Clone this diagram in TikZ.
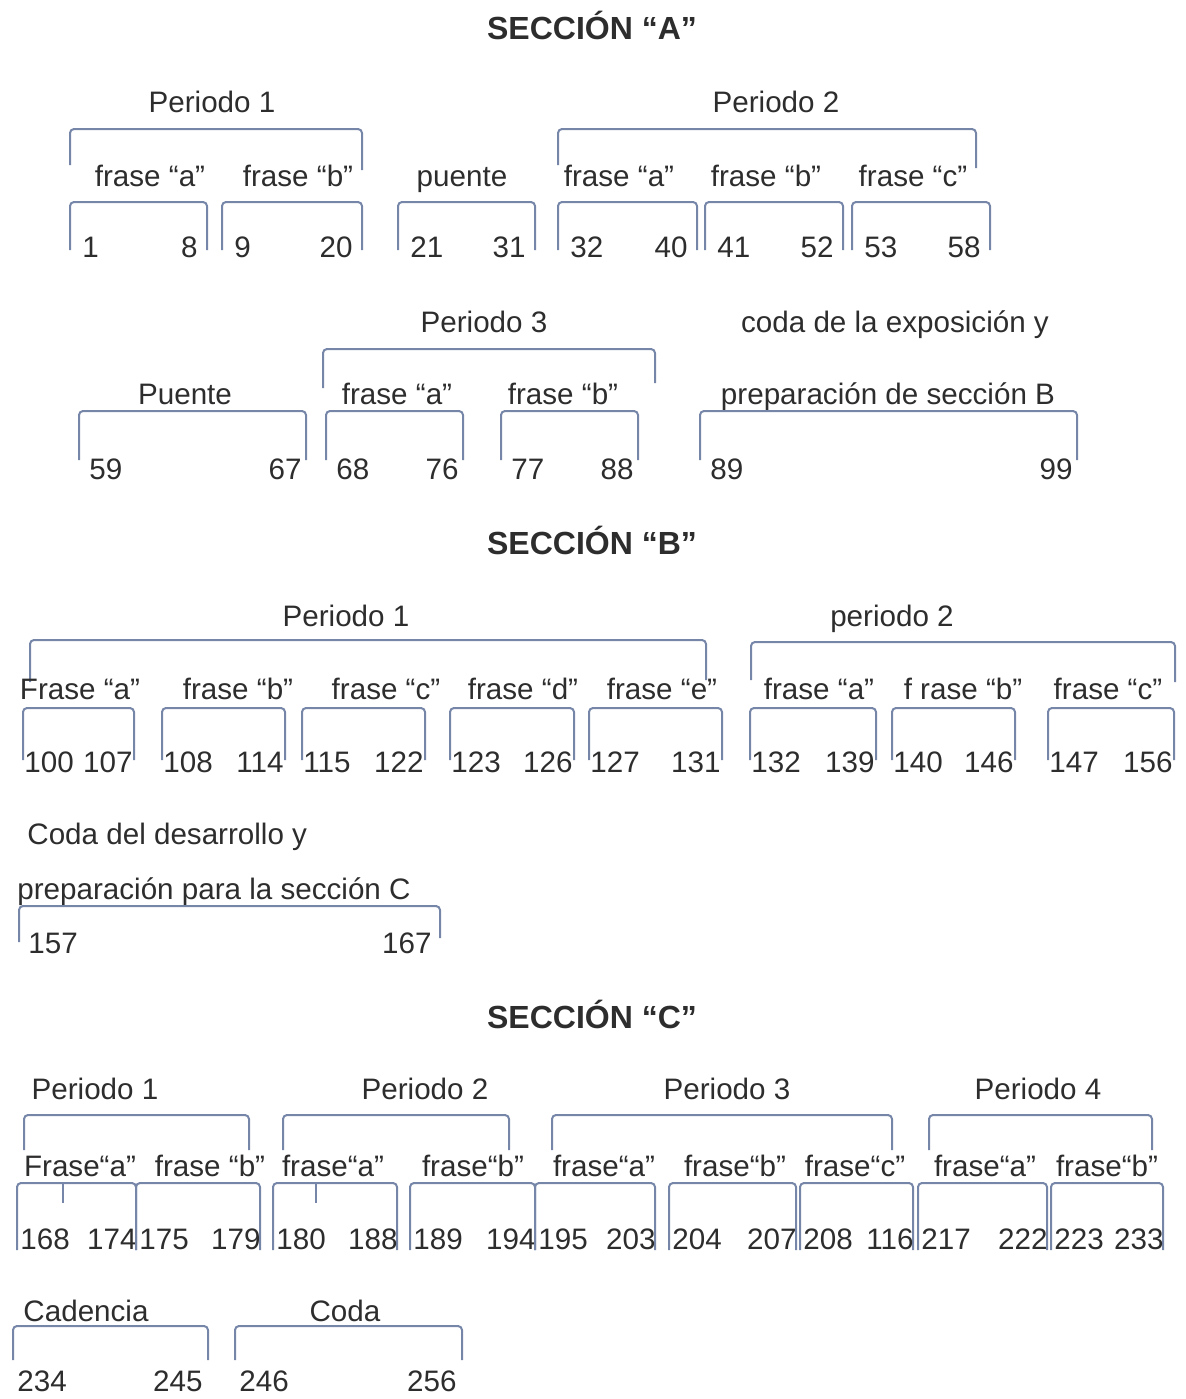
\documentclass[tikz,border=0pt]{standalone}
\usepackage{fontspec}
\setmainfont{Liberation Sans}
\usepackage{xcolor}
\definecolor{bracketblue}{RGB}{118,134,168}
\definecolor{textgray}{RGB}{45,45,45}
\tikzset{
    bracket-line/.style = {draw=bracketblue, line width=1pt, rounded corners=2pt},
    row-label/.style = {text=textgray, inner sep=0pt, anchor=base, font=\fontsize{14.8}{18}\selectfont},
    section-title/.style = {row-label, font=\fontsize{16}{19}\selectfont\bfseries},
    num-left/.style = {row-label, anchor=base west},
    num-right/.style = {row-label, anchor=base east},
}

\begin{document}
\begin{tikzpicture}[x=0.5pt, y=-0.5pt]
\useasboundingbox (0,0) rectangle (1185,1399);

\node[section-title] (titA) at (592,39) {SECCIÓN “A”};
\node[row-label] (A-p1) at (212,112) {Periodo 1};
\node[row-label] (A-p2) at (776,112) {Periodo 2};
\draw[bracket-line] (70,165) |- (362,129) -- (362,170);
\draw[bracket-line] (558,165) |- (976,129) -- (976,168);
\foreach \xc/\txt [count=\i] in {150/frase “a”, 298/frase “b”, 462/puente, 619/frase “a”, 766/frase “b”, 913/frase “c”}
    \node[row-label] (A-f\i) at (\xc,186) {\txt};
\foreach \xa/\xb/\ma/\mb in {70/207/1/8, 222/362/9/20, 398/535/21/31, 558/697/32/40, 705/843/41/52, 852/990/53/58} {
    \draw[bracket-line] (\xa,250) |- (\xb,202) -- (\xb,250);
    \node[num-left] (A-n\ma) at (\xa+12,257) {\ma};
    \node[num-right] (A-n\mb) at (\xb-9,257) {\mb};
}

\node[row-label] (A-p3) at (484,332) {Periodo 3};
\node[row-label] (A-coda1) at (895,332) {coda de la exposición y};
\draw[bracket-line] (323,388) |- (655,349) -- (655,383);
\foreach \xc/\txt [count=\i from 7] in {185/Puente, 397/frase “a”, 563/frase “b”, 888/preparación de sección B}
    \node[row-label] (A-f\i) at (\xc,404) {\txt};
\foreach \xa/\xb/\ma/\mb in {79/306/59/67, 326/463/68/76, 501/638/77/88, 700/1077/89/99} {
    \draw[bracket-line] (\xa,460) |- (\xb,411) -- (\xb,460);
    \node[num-left] (A-n\ma) at (\xa+10,479) {\ma};
    \node[num-right] (A-n\mb) at (\xb-4,479) {\mb};
}

\node[section-title] (titB) at (592,554) {SECCIÓN “B”};
\node[row-label] (B-p1) at (346,626) {Periodo 1};
\node[row-label] (B-p2) at (892,626) {periodo 2};
\draw[bracket-line] (30,682) |- (706,640) -- (706,680);
\draw[bracket-line] (751,680) |- (1175,642) -- (1175,682);
\foreach \xc/\txt [count=\i] in {80/Frase “a”, 238/frase “b”, 386/frase “c”, 523/frase “d”, 662/frase “e”, 819/frase “a”, 963/f rase “b”, 1108/frase “c”}
    \node[row-label] (B-f\i) at (\xc,699) {\txt};
\foreach \xa/\xb/\ma/\mb in {23/134/100/107, 162/285/108/114, 302/425/115/122, 450/574/123/126, 589/722/127/131, 750/876/132/139, 892/1015/140/146, 1048/1174/147/156} {
    \draw[bracket-line] (\xa,760) |- (\xb,708) -- (\xb,760);
    \node[num-left] (B-n\ma) at (\xa+1,772) {\ma};
    \node[num-right] (B-n\mb) at (\xb-1,772) {\mb};
}

\node[row-label, anchor=base west] (B-coda1) at (27,844) {Coda del desarrollo y};
\node[row-label, anchor=base west] (B-coda2) at (17,899) {preparación para la sección C};
\draw[bracket-line] (19,942) |- (440,906) -- (440,938);
\node[num-left] (B-n157) at (28,953) {157};
\node[num-right] (B-n167) at (432,953) {167};

\node[section-title] (titC) at (592,1028) {SECCIÓN “C”};
\foreach \xc/\txt [count=\i] in {95/Periodo 1, 425/Periodo 2, 727/Periodo 3, 1038/Periodo 4}
    \node[row-label] (C-p\i) at (\xc,1099) {\txt};
\foreach \xa/\xb in {24/249, 283/509, 552/892, 929/1152}
    \draw[bracket-line] (\xa,1150) |- (\xb,1115) -- (\xb,1150);
\foreach \xc/\txt [count=\i] in {80/Frase“a”, 210/frase “b”, 333/frase“a”, 473/frase“b”, 604/frase“a”, 735/frase“b”, 855/frase“c”, 985/frase“a”, 1107/frase“b”}
    \node[row-label] (C-f\i) at (\xc,1176) {\txt};
\foreach \xa/\xb/\ma/\mb in {17/136/168/174, 136/260/175/179, 273/397/180/188, 410/535/189/194, 535/655/195/203, 669/796/204/207, 800/913/208/116, 918/1047/217/222, 1051/1163/223/233} {
    \draw[bracket-line] (\xa,1250) |- (\xb,1183) -- (\xb,1250);
    \node[num-left] (C-n\ma) at (\xa+3,1249) {\ma};
    \node[num-right] (C-n\mb) at (\xb+1,1249) {\mb};
}
\draw[bracket-line] (63,1183) -- (63,1203);
\draw[bracket-line] (316,1183) -- (316,1203);

\node[row-label] (C-cad) at (86,1321) {Cadencia};
\node[row-label] (C-coda) at (345,1321) {Coda};
\foreach \xa/\xb/\ma/\mb in {13/208/234/245, 235/462/246/256} {
    \draw[bracket-line] (\xa,1360) |- (\xb,1326) -- (\xb,1360);
    \node[num-left] (C-n\ma) at (\xa+4,1391) {\ma};
    \node[num-right] (C-n\mb) at (\xb-5,1391) {\mb};
}
\end{tikzpicture}
\end{document}
